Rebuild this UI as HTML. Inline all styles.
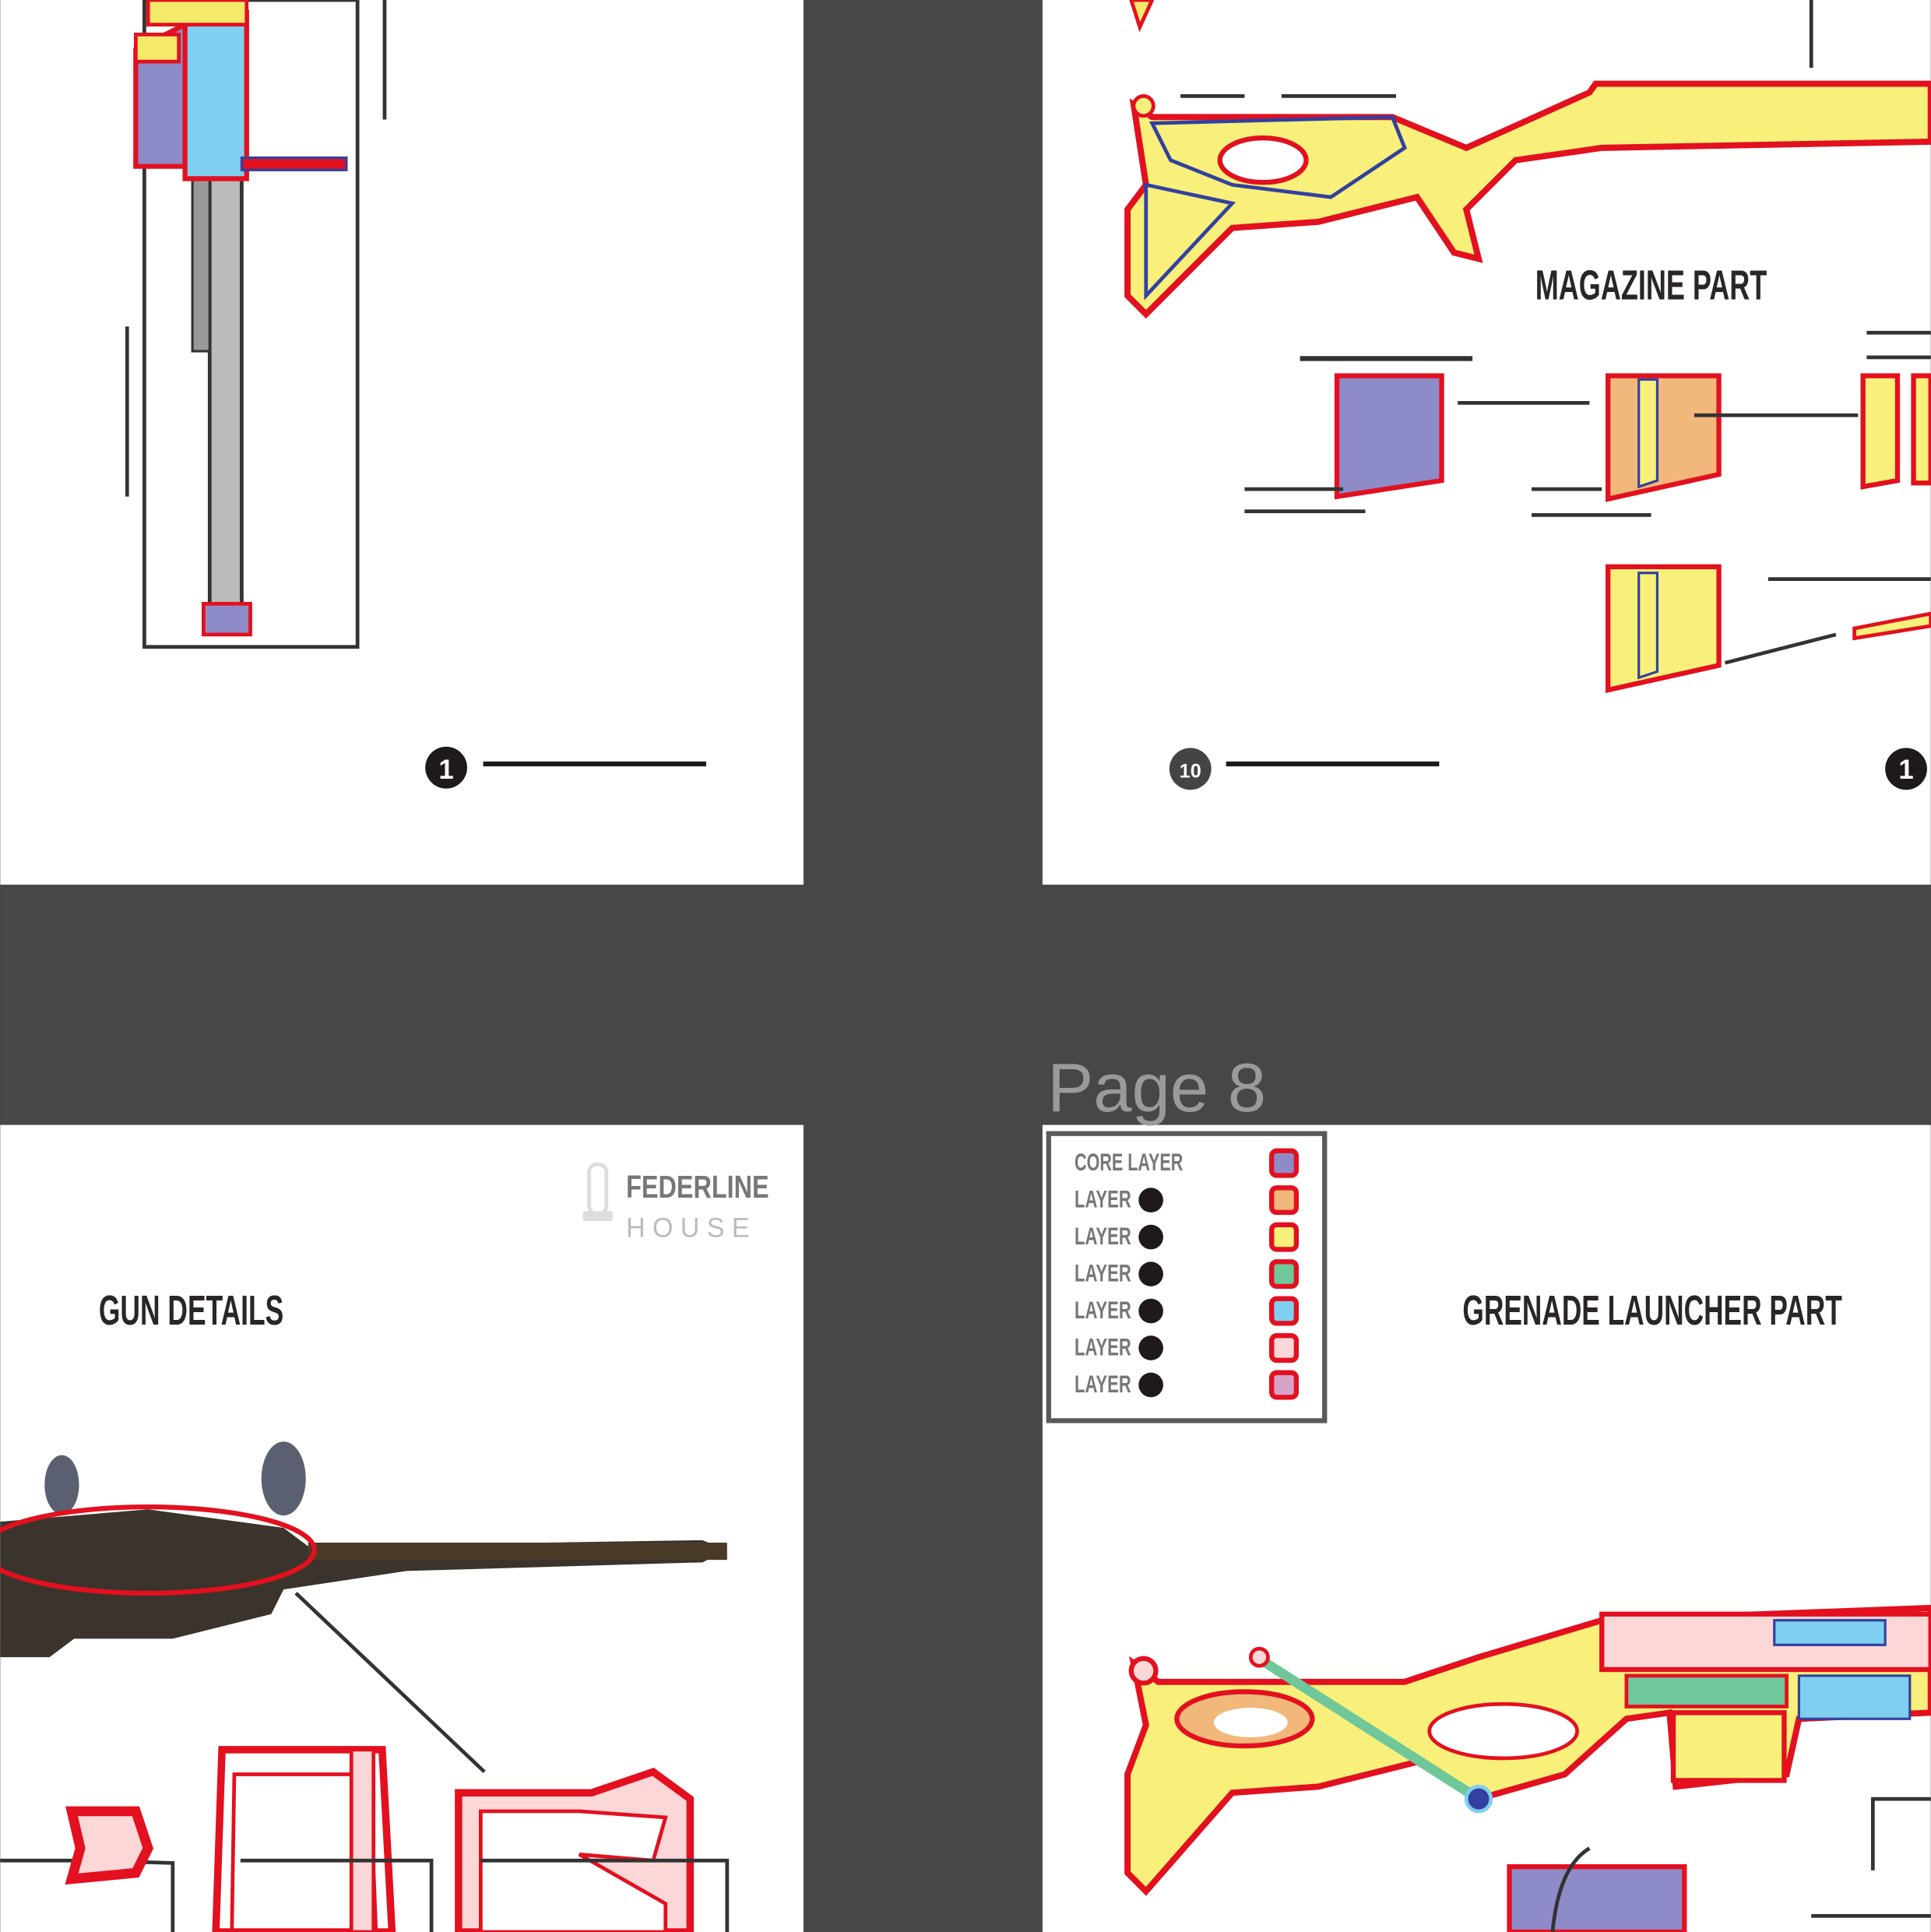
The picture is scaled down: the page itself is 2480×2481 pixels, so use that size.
<!DOCTYPE html>
<html><head><meta charset="utf-8"><style>
html,body{margin:0;padding:0;background:#474747;}
svg{display:block;}
text{font-family:"Liberation Sans",sans-serif;}
.lbl{font-family:"Liberation Sans",sans-serif;font-weight:bold;fill:#2a2526;}
</style></head><body>
<svg width="2480" height="2481" viewBox="0 0 1567 1568" xmlns="http://www.w3.org/2000/svg">
<rect width="1567" height="1568" fill="#474747"/>
<!-- panels -->
<rect x="0" y="0" width="652" height="718" fill="#fff"/>
<rect x="846" y="0" width="721" height="718" fill="#fff"/>
<rect x="0" y="913" width="652" height="655" fill="#fff"/>
<rect x="846" y="913" width="721" height="655" fill="#fff"/>
<text x="850" y="902" font-size="56" fill="#9a9a9a">Page 8</text>

<!-- TOP LEFT -->
<rect x="117" y="0" width="173" height="525" fill="none" stroke="#333" stroke-width="3"/>
<line x1="312" y1="0" x2="312" y2="97" stroke="#333" stroke-width="3"/>
<line x1="103" y1="265" x2="103" y2="403" stroke="#333" stroke-width="3"/>
<rect x="170" y="145" width="26" height="350" fill="#bbb" stroke="#333" stroke-width="3"/>
<rect x="156" y="145" width="14" height="140" fill="#999" stroke="#333" stroke-width="2"/>
<rect x="165" y="490" width="38" height="25" fill="#8d8cc8" stroke="#e3101f" stroke-width="3"/>
<path d="M110 40 L150 20 L150 135 L110 135 Z" fill="#8d8cc8" stroke="#e3101f" stroke-width="4"/>
<path d="M150 10 L200 10 L200 145 L150 145 Z" fill="#7fcff0" stroke="#e3101f" stroke-width="4"/>
<path d="M120 0 L200 0 L200 20 L120 20Z" fill="#f5e96a" stroke="#e3101f" stroke-width="3"/>
<rect x="110" y="28" width="35" height="22" fill="#f5e96a" stroke="#e3101f" stroke-width="3"/>
<rect x="196" y="128" width="85" height="10" fill="#e3101f" stroke="#3340a0" stroke-width="2"/>
<circle cx="362" cy="623" r="17" fill="#1e1a1b"/>
<text x="362" y="632" font-size="22" fill="#fff" text-anchor="middle" font-weight="bold">1</text>
<line x1="392" y1="620" x2="573" y2="620" stroke="#1e1a1b" stroke-width="4"/>

<!-- TOP RIGHT -->
<line x1="1470" y1="0" x2="1470" y2="55" stroke="#333" stroke-width="3"/>
<line x1="958" y1="78" x2="1010" y2="78" stroke="#333" stroke-width="3"/>
<line x1="1040" y1="78" x2="1133" y2="78" stroke="#333" stroke-width="3"/>
<path d="M918 0 L935 0 L925 22 Z" fill="#f5e96a" stroke="#e3101f" stroke-width="3"/>
<path d="M920 85 L935 95 L1130 95 L1190 120 L1290 75 L1295 68 L1567 68 L1567 115 L1300 120 L1230 130 L1190 170 L1200 210 L1180 205 L1150 160 L1070 180 L1000 185 L930 255 L915 240 L915 170 L930 150 Z" fill="#f8f07a" stroke="#e3101f" stroke-width="5"/>
<path d="M935 100 L1130 95 L1140 120 L1080 160 L1000 150 L950 130 Z" fill="none" stroke="#3340a0" stroke-width="3"/>
<ellipse cx="1025" cy="130" rx="35" ry="18" fill="#fff" stroke="#e3101f" stroke-width="4"/>
<path d="M930 150 L1000 165 L930 240 Z" fill="none" stroke="#3340a0" stroke-width="3"/>
<circle cx="928" cy="86" r="8" fill="#f8f07a" stroke="#e3101f" stroke-width="3"/>
<text class="lbl" x="1340" y="243" font-size="34" text-anchor="middle" textLength="188" lengthAdjust="spacingAndGlyphs">MAGAZINE PART</text>
<line x1="1055" y1="291" x2="1195" y2="291" stroke="#333" stroke-width="4"/>
<path d="M1085 305 L1170 305 L1170 390 L1085 403 Z" fill="#8d8cc8" stroke="#e3101f" stroke-width="4"/>
<line x1="1010" y1="397" x2="1090" y2="397" stroke="#333" stroke-width="3"/>
<line x1="1010" y1="415" x2="1108" y2="415" stroke="#333" stroke-width="3"/>
<line x1="1183" y1="327" x2="1290" y2="327" stroke="#333" stroke-width="3"/>
<path d="M1305 305 L1395 305 L1395 385 L1305 405 Z" fill="#f2b77a" stroke="#e3101f" stroke-width="4"/>
<path d="M1330 308 L1345 308 L1345 390 L1330 395Z" fill="#f8f07a" stroke="#3340a0" stroke-width="2"/>
<line x1="1375" y1="337" x2="1508" y2="337" stroke="#333" stroke-width="3"/>
<line x1="1243" y1="397" x2="1300" y2="397" stroke="#333" stroke-width="3"/>
<line x1="1243" y1="418" x2="1340" y2="418" stroke="#333" stroke-width="3"/>
<path d="M1512 305 L1540 305 L1540 390 L1512 395 Z" fill="#f8f07a" stroke="#e3101f" stroke-width="4"/>
<path d="M1553 305 L1567 305 L1567 392 L1553 392 Z" fill="#f8f07a" stroke="#e3101f" stroke-width="4"/>
<line x1="1515" y1="270" x2="1567" y2="270" stroke="#333" stroke-width="3"/>
<line x1="1515" y1="290" x2="1567" y2="290" stroke="#333" stroke-width="3"/>
<path d="M1305 460 L1395 460 L1395 540 L1305 560 Z" fill="#f8f07a" stroke="#e3101f" stroke-width="4"/>
<path d="M1330 465 L1345 465 L1345 545 L1330 550Z" fill="#f8f07a" stroke="#3340a0" stroke-width="2"/>
<line x1="1435" y1="470" x2="1567" y2="470" stroke="#333" stroke-width="3"/>
<line x1="1400" y1="538" x2="1490" y2="515" stroke="#333" stroke-width="3"/>
<path d="M1505 510 L1567 498 L1567 508 L1505 518 Z" fill="#f8f07a" stroke="#e3101f" stroke-width="3"/>
<circle cx="966" cy="624" r="17" fill="#444"/>
<text x="966" y="631" font-size="16" fill="#fff" text-anchor="middle" font-weight="bold">10</text>
<line x1="995" y1="620" x2="1168" y2="620" stroke="#1e1a1b" stroke-width="4"/>
<circle cx="1547" cy="624" r="17" fill="#1e1a1b"/>
<text x="1547" y="632" font-size="22" fill="#fff" text-anchor="middle" font-weight="bold">1</text>

<!-- BOTTOM LEFT -->
<rect x="478" y="945" width="14" height="40" rx="6" fill="none" stroke="#ddd" stroke-width="3"/>
<rect x="473" y="983" width="24" height="8" fill="#ddd"/>
<text x="508" y="972" font-size="26" fill="#777" font-weight="bold" textLength="116" lengthAdjust="spacingAndGlyphs">FEDERLINE</text>
<text x="508" y="1004" font-size="22" fill="#bbb" textLength="106" lengthAdjust="spacingAndGlyphs" letter-spacing="6">HOUSE</text>
<text class="lbl" x="80" y="1075" font-size="34" textLength="150" lengthAdjust="spacingAndGlyphs">GUN DETAILS</text>
<path d="M0 1235 L120 1225 L230 1240 L250 1255 L570 1250 L590 1258 L570 1268 L330 1275 L230 1290 L220 1310 L140 1330 L60 1330 L40 1345 L0 1345 Z" fill="#3a342c"/>
<rect x="250" y="1252" width="340" height="14" fill="#4a3b28"/>
<ellipse cx="50" cy="1205" rx="14" ry="24" fill="#5a6070"/>
<ellipse cx="230" cy="1200" rx="18" ry="30" fill="#5a6070"/>
<ellipse cx="120" cy="1258" rx="135" ry="35" fill="none" stroke="#e3101f" stroke-width="4"/>
<line x1="240" y1="1293" x2="393" y2="1438" stroke="#333" stroke-width="3"/>
<path d="M0 1510 L75 1510 L140 1512 L140 1568" fill="none" stroke="#333" stroke-width="3"/>
<path d="M58 1470 L110 1470 L120 1500 L110 1520 L58 1525 L65 1500 Z" fill="#fbd7d7" stroke="#e3101f" stroke-width="8"/>
<path d="M180 1420 L310 1420 L318 1568 L175 1568 Z" fill="none" stroke="#e3101f" stroke-width="6"/>
<path d="M190 1440 L300 1440 L305 1568 L188 1568 Z" fill="none" stroke="#e3101f" stroke-width="3"/>
<rect x="285" y="1420" width="18" height="148" fill="#fbd7d7" stroke="#e3101f" stroke-width="3"/>
<path d="M195 1510 L350 1510 L350 1568" fill="none" stroke="#333" stroke-width="3"/>
<path d="M372 1455 L480 1455 L530 1438 L560 1460 L560 1568 L372 1568 Z" fill="#fbd7d7" stroke="#e3101f" stroke-width="6"/>
<path d="M390 1470 L470 1470 L540 1475 L530 1510 L470 1505 L540 1545 L540 1568 L390 1568Z" fill="#fff" stroke="#e3101f" stroke-width="3"/>
<path d="M390 1510 L590 1510 L590 1568" fill="none" stroke="#333" stroke-width="3"/>

<!-- BOTTOM RIGHT legend -->
<rect x="851" y="920" width="224" height="233" fill="#fff" stroke="#5a5a5a" stroke-width="4"/>
<g font-size="20" fill="#777" font-weight="bold">
<text x="872" y="950" textLength="88" lengthAdjust="spacingAndGlyphs">CORE LAYER</text>
<text x="872" y="980" textLength="46" lengthAdjust="spacingAndGlyphs">LAYER</text>
<text x="872" y="1010" textLength="46" lengthAdjust="spacingAndGlyphs">LAYER</text>
<text x="872" y="1040" textLength="46" lengthAdjust="spacingAndGlyphs">LAYER</text>
<text x="872" y="1070" textLength="46" lengthAdjust="spacingAndGlyphs">LAYER</text>
<text x="872" y="1100" textLength="46" lengthAdjust="spacingAndGlyphs">LAYER</text>
<text x="872" y="1130" textLength="46" lengthAdjust="spacingAndGlyphs">LAYER</text>
</g>
<g fill="#1e1a1b"><circle cx="934" cy="974" r="10"/><circle cx="934" cy="1004" r="10"/><circle cx="934" cy="1034" r="10"/><circle cx="934" cy="1064" r="10"/><circle cx="934" cy="1094" r="10"/><circle cx="934" cy="1124" r="10"/></g>
<g stroke="#e3101f" stroke-width="4">
<rect x="1032" y="934" width="20" height="20" rx="4" fill="#8d8cc8"/>
<rect x="1032" y="964" width="20" height="20" rx="4" fill="#f2b77a"/>
<rect x="1032" y="994" width="20" height="20" rx="4" fill="#f8f07a"/>
<rect x="1032" y="1024" width="20" height="20" rx="4" fill="#6fc79a"/>
<rect x="1032" y="1054" width="20" height="20" rx="4" fill="#7fcff0"/>
<rect x="1032" y="1084" width="20" height="20" rx="4" fill="#fbd7d7"/>
<rect x="1032" y="1114" width="20" height="20" rx="4" fill="#d6a3c8"/>
</g>
<text class="lbl" x="1187" y="1075" font-size="34" textLength="308" lengthAdjust="spacingAndGlyphs">GRENADE LAUNCHER PART</text>
<!-- launcher gun -->
<path d="M920 1350 L940 1365 L1140 1365 L1200 1345 L1300 1315 L1567 1305 L1567 1390 L1460 1395 L1450 1440 L1360 1450 L1355 1390 L1320 1395 L1270 1440 L1200 1460 L1150 1430 L1070 1450 L1000 1455 L930 1535 L915 1520 L915 1440 L930 1400 Z" fill="#f8f07a" stroke="#e3101f" stroke-width="5"/>
<ellipse cx="1010" cy="1395" rx="55" ry="22" fill="#f2b77a" stroke="#e3101f" stroke-width="4"/>
<ellipse cx="1015" cy="1398" rx="30" ry="12" fill="#fff"/>
<path d="M1020 1345 L1200 1460" stroke="#6fc79a" stroke-width="8"/>
<circle cx="1200" cy="1460" r="10" fill="#3340a0" stroke="#7fcff0" stroke-width="3"/>
<circle cx="928" cy="1356" r="10" fill="#fbd7d7" stroke="#e3101f" stroke-width="4"/>
<circle cx="1022" cy="1345" r="7" fill="#fbd7d7" stroke="#e3101f" stroke-width="3"/>
<rect x="1300" y="1310" width="267" height="45" fill="#fbd7d7" stroke="#e3101f" stroke-width="4"/>
<rect x="1440" y="1315" width="90" height="20" fill="#7fcff0" stroke="#3340a0" stroke-width="2"/>
<rect x="1460" y="1360" width="90" height="35" fill="#7fcff0" stroke="#3340a0" stroke-width="2"/>
<rect x="1320" y="1360" width="130" height="25" fill="#6fc79a" stroke="#e3101f" stroke-width="3"/>
<rect x="1358" y="1390" width="90" height="55" fill="#f8f07a" stroke="#e3101f" stroke-width="4"/>
<ellipse cx="1220" cy="1405" rx="60" ry="22" fill="#fff" stroke="#e3101f" stroke-width="3"/>
<rect x="1225" y="1515" width="142" height="53" fill="#8d8cc8" stroke="#e3101f" stroke-width="4"/>
<path d="M1260 1568 Q1265 1515 1290 1500" fill="none" stroke="#333" stroke-width="3"/>
<path d="M1520 1518 L1520 1460 L1567 1460" fill="none" stroke="#333" stroke-width="3"/>
<line x1="1470" y1="1555" x2="1567" y2="1555" stroke="#333" stroke-width="3"/>
</svg>
</body></html>
